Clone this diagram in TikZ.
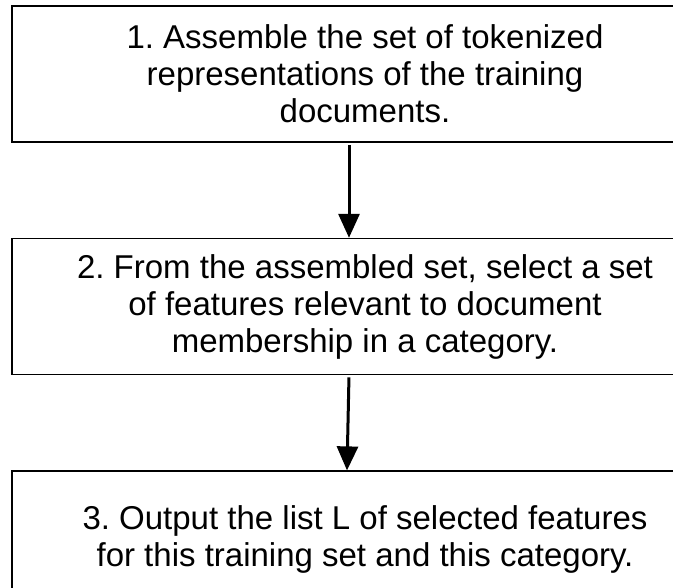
\documentclass[tikz,border=0pt]{standalone}
\usepackage{fontspec}
\setmainfont{Liberation Sans}
\usepackage{tikz}
\usetikzlibrary{arrows.meta,positioning}
\frenchspacing

\begin{document}
\begin{tikzpicture}[x=1pt,y=-1pt,->,>={Triangle[length=24pt,width=21pt]},
                    shorten <=2pt,line width=3pt,node distance=95pt,
                    stepbox/.style={draw,rectangle,line width=1.6pt,
                      minimum width=706pt,minimum height=136pt,
                      align=center,font=\fontsize{33}{37}\selectfont}]

  \useasboundingbox (0,0) rectangle (673,588);

  \node[stepbox] (1) at (365,74) {1. Assemble the set of tokenized\\
    representations of the training\\ documents.};
  \node[stepbox] (2) [below=of 1] {2. From the assembled set, select a set\\
    of features relevant to document\\ membership in a category.};
  \node[stepbox] (3) [below=of 2] {3. Output the list L of selected features\\
    for this training set and this category.};

  \draw ([xshift=-16pt]1.south) -- ([xshift=-16pt]2.north);
  \draw ([xshift=-16pt]2.south) -- ([xshift=-18pt]3.north);
\end{tikzpicture}
\end{document}
